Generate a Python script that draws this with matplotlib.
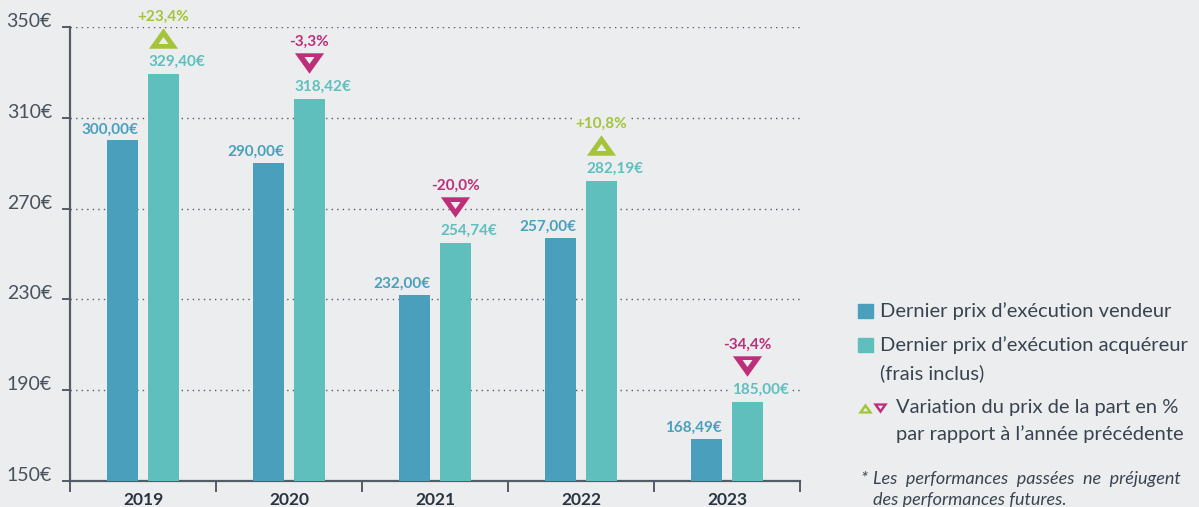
import matplotlib
matplotlib.use("Agg")
import matplotlib.pyplot as plt
import matplotlib.transforms as mtransforms
from matplotlib.patches import Rectangle
import numpy as np

# data
years = ["2019", "2020", "2021", "2022", "2023"]
prix_vendeur = [300.00, 290.00, 232.00, 257.00, 168.49]
prix_acquereur = [329.40, 318.42, 254.74, 282.19, 185.00]
variation = [23.4, -3.3, -20.0, 10.8, -34.4]
y_ticks = [150, 190, 230, 270, 310, 350]

BG = "#ECEDEF"
C_VEND = "#4AA0BC"
C_ACQ = "#5FBFBD"
C_UP = "#A5C43A"
C_DOWN = "#BE2F7A"
C_AXIS = "#545C66"
C_TEXT = "#3A4450"

plt.rcParams["font.family"] = ["Lato", "DejaVu Sans"]


def fmt_eur(v):
    return "{0:.2f}€".format(v).replace(".", ",")


def fmt_pct(v):
    return "{0:+.1f}%".format(v).replace(".", ",")


fig = plt.figure(figsize=(11.99, 5.07), dpi=100, facecolor=BG)
ax = fig.add_axes([70 / 1199, 1 - 481 / 507, 730 / 1199, 454 / 507])
ax.set_facecolor(BG)

x = np.arange(len(years))
w = 0.212
off = 0.14
ax.bar(x - off, [v - 150 for v in prix_vendeur], bottom=150, width=w,
       color=C_VEND, zorder=3)
ax.bar(x + off, [v - 150 for v in prix_acquereur], bottom=150, width=w,
       color=C_ACQ, zorder=3)

ax.set_xlim(-0.5, len(years) - 0.5)
ax.set_ylim(150, 350)

# grid
for t in y_ticks[1:]:
    ax.axhline(t, color=C_AXIS, lw=1.0, ls=(0, (1, 3)), zorder=1)

# spines / ticks
for s in ["top", "right"]:
    ax.spines[s].set_visible(False)
for s in ["left", "bottom"]:
    ax.spines[s].set_color(C_AXIS)
    ax.spines[s].set_linewidth(1.6)

ax.set_yticks(y_ticks)
ax.set_yticklabels(["{0}€".format(t) for t in y_ticks])
ax.tick_params(axis="y", length=6, width=1.4, color=C_AXIS, labelsize=14,
               labelcolor="#4A525C", pad=7)
for lab in ax.get_yticklabels():
    lab.set_transform(lab.get_transform() +
                      mtransforms.ScaledTranslation(0, 0.07, fig.dpi_scale_trans))

ax.set_xticks(np.arange(len(years) + 1) - 0.5)
ax.set_xticklabels([])
ax.set_xticks(x, minor=True)
ax.set_xticklabels(years, minor=True)
ax.tick_params(axis="x", which="major", length=8, width=1.4, color=C_AXIS)
ax.tick_params(axis="x", which="minor", length=0, labelsize=12.5,
               labelcolor="#2A3440", pad=8)
for lab in ax.get_xticklabels(minor=True):
    lab.set_fontweight("bold")

# value labels
for i in range(len(years)):
    ax.annotate(fmt_eur(prix_vendeur[i]), xy=(x[i] - off + w / 2, prix_vendeur[i]),
                xytext=(0, 11), textcoords="offset pixels", ha="right", va="center",
                color=C_VEND, fontsize=11, fontweight="bold", zorder=5)
    ax.annotate(fmt_eur(prix_acquereur[i]), xy=(x[i] + off - w / 2, prix_acquereur[i]),
                xytext=(0, 12), textcoords="offset pixels", ha="left", va="center",
                color=C_ACQ, fontsize=11, fontweight="bold", zorder=5,
                bbox=dict(boxstyle="square,pad=0.15", fc=BG, ec="none"))

# variation markers
up_verts = [(-1, -0.7), (1, -0.7), (0, 0.7), (-1, -0.7)]
down_verts = [(-1, 0.7), (1, 0.7), (0, -0.7), (-1, 0.7)]
for i in range(len(years)):
    up = variation[i] > 0
    col = C_UP if up else C_DOWN
    verts = up_verts if up else down_verts
    tr = ax.transData + mtransforms.ScaledTranslation(0, 0.36, fig.dpi_scale_trans)
    ax.plot([x[i] + off], [prix_acquereur[i]], marker=verts, ms=21, color=col,
            mec=col, mew=0, transform=tr, zorder=6, clip_on=False)
    shift = -0.022 if up else 0.022
    ax.plot([x[i] + off], [prix_acquereur[i]], marker=verts, ms=7.2, color=BG,
            mec=BG, mew=0, transform=tr + mtransforms.ScaledTranslation(
                0, shift, fig.dpi_scale_trans),
            zorder=7, clip_on=False)
    ax.annotate(fmt_pct(variation[i]), xy=(x[i] + off, prix_acquereur[i]),
                xytext=(0, 57), textcoords="offset pixels", ha="center", va="center",
                color=col, fontsize=11, fontweight="bold", zorder=6,
                annotation_clip=False,
                bbox=dict(boxstyle="square,pad=0.1", fc=BG, ec="none"))


# legend (manual)
def fx(px):
    return px / 1199


def fy(py):
    return 1 - py / 507


LEG = 14.5
fig.patches.append(Rectangle((fx(858), fy(318)), 15 / 1199, 14 / 507,
                             transform=fig.transFigure, color=C_VEND))
fig.patches.append(Rectangle((fx(858), fy(352)), 15 / 1199, 14 / 507,
                             transform=fig.transFigure, color=C_ACQ))
fig.text(fx(880), fy(311), "Dernier prix d’exécution vendeur", fontsize=LEG,
         color=C_TEXT, va="center", ha="left")
fig.text(fx(880), fy(345), "Dernier prix d’exécution acquéreur", fontsize=LEG,
         color=C_TEXT, va="center", ha="left")
fig.text(fx(880), fy(373), "(frais inclus)", fontsize=LEG,
         color=C_TEXT, va="center", ha="left")
for px, verts, col in [(865, up_verts, C_UP), (880, down_verts, C_DOWN)]:
    up = verts is up_verts
    fig.lines.append(plt.Line2D([fx(px)], [fy(408)], marker=verts, ms=10.5,
                                color=col, mew=0, transform=fig.transFigure))
    fig.lines.append(plt.Line2D([fx(px)], [fy(409 if up else 407)], marker=verts,
                                ms=3.8, color=BG, mew=0, transform=fig.transFigure))
fig.text(fx(896), fy(407), "Variation du prix de la part en %", fontsize=LEG,
         color=C_TEXT, va="center", ha="left")
fig.text(fx(896), fy(434), "par rapport à l’année précédente", fontsize=LEG,
         color=C_TEXT, va="center", ha="left")
fig.text(fx(860), fy(479), "*", fontsize=13,
         color=C_TEXT, va="center", ha="left", style="italic")
fig.text(fx(873), fy(479), "Les  performances  passées  ne  préjugent", fontsize=13,
         color=C_TEXT, va="center", ha="left", style="italic")
fig.text(fx(873), fy(500), "des performances futures.", fontsize=13,
         color=C_TEXT, va="center", ha="left", style="italic")

plt.savefig("out.png", dpi=100, facecolor=BG)
